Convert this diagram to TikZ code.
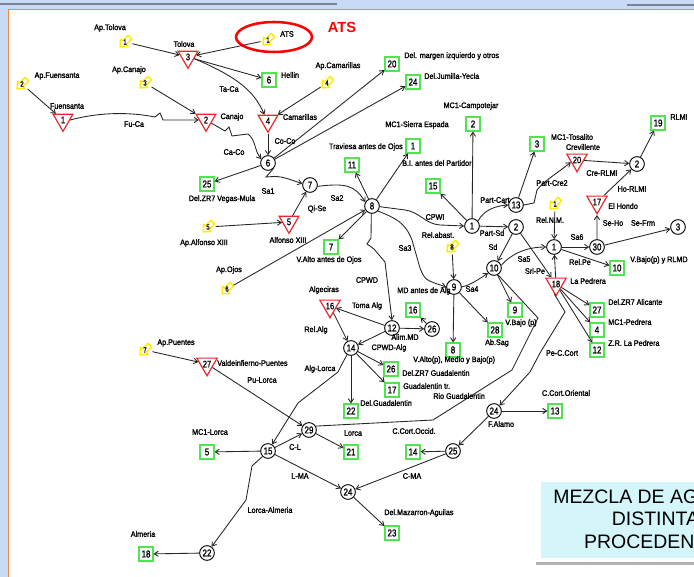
\documentclass[tikz,border=0pt]{standalone}
\usepackage{fontspec}
\setmainfont{Liberation Sans}
\newfontfamily\lblfam[FakeStretch=0.9,FakeBold=1.6]{Liberation Sans}
\newfontfamily\numfam[FakeStretch=0.8,FakeBold=1]{Liberation Sans}
\usetikzlibrary{shapes.geometric,arrows.meta}
\definecolor{sqgreen}{RGB}{80,228,80}
\definecolor{trired}{RGB}{235,40,40}
\definecolor{apyellow}{RGB}{255,236,0}
\definecolor{framebl}{RGB}{200,218,245}
\definecolor{framegr}{RGB}{120,130,150}
\definecolor{frameor}{RGB}{235,140,60}
\definecolor{boxcyan}{RGB}{212,246,250}
\tikzset{
  sq/.style={draw=sqgreen, line width=1.1pt, minimum size=10.3pt, inner sep=0pt, fill=white, font=\numfam\fontsize{7.5}{8}\selectfont},
  circ/.style={circle, draw=black, line width=0.7pt, minimum size=11pt, inner sep=0pt, fill=white, font=\numfam\fontsize{7.5}{8}\selectfont},
  tri/.style={regular polygon, regular polygon sides=3, shape border rotate=180, draw=trired, line width=0.9pt, minimum size=17pt, inner sep=0pt, font=\numfam\fontsize{7}{8}\selectfont},
  apnode/.style={circle, inner sep=0pt, minimum size=11pt, font=\numfam\fontsize{5.5}{6}\selectfont},
  apshape/.style={draw=apyellow, line width=1.1pt, line join=round},
  lbl/.style={inner sep=0pt, font=\lblfam\fontsize{6}{7}\selectfont},
  arr/.style={draw=black!85, line width=0.65pt, -{Straight Barb[length=3pt,width=4pt]}},
  ln/.style={draw=black!85, line width=0.65pt},
}
\newcommand{\apicon}[3]{%
  \draw[apshape, shift={(#2)}, scale=1.15] (5.8,-2.7) -- (0.85,2.26) -- (2.47,3.89) -- (-4.24,4.24) -- (-3.89,-2.47) -- (-2.26,-0.85) -- (2.69,-5.8) -- cycle;
  \node[apnode] (#1) at (#2) {#3};
}
\begin{document}
\begin{tikzpicture}[x=0.75pt,y=-0.75pt]
\useasboundingbox (0,0) rectangle (694,577);
% frame
\fill[white] (0,0) rectangle (694,577);
\fill[framebl] (0,0) rectangle (694,9);
\fill[framebl] (0,0) rectangle (8,577);
\draw[framegr, line width=1.5pt] (0,4) -- (337,4);
\draw[framegr, line width=1.5pt] (627,5) -- (694,5);
\draw[frameor, line width=0.9pt] (8.5,577) -- (8.5,9.5) -- (694,9.5);
% legend box
\fill[boxcyan] (541,482) rectangle (694,558);
\draw[gray!60, line width=2pt] (536,563.5) -- (694,563.5);
\node[align=center, inner sep=0pt, font=\fontsize{14.6}{17}\selectfont] (mezcla) at (662,519) {MEZCLA DE AGUAS DE\\DISTINTAS\\PROCEDENCIAS};
% ATS highlight
\draw[red, line width=1.9pt] (274,37) ellipse [x radius=38, y radius=15];
\node[inner sep=0pt, text=red, font=\bfseries\fontsize{11}{12}\selectfont] (atsbig) at (342,27) {ATS};

% yellow icons
\apicon{iATS}{268,40}{1}
\apicon{iTol}{125,42}{1}
\apicon{iFue}{22,84}{2}
\apicon{iCan}{145,83}{3}
\apicon{iCam}{327,83}{4}
\apicon{iAlf}{208,227}{5}
\apicon{iOjo}{227,289}{6}
\apicon{iPue}{145,350}{7}
\apicon{iRel}{452,247}{8}
\apicon{iRNM}{555,204}{1}

% triangles
\node[tri] (tTol) at (188,57) {3};
\node[tri] (tFue) at (63,120) {1};
\node[tri] (tCan) at (206,120) {2};
\node[tri] (tCam) at (268,121) {4};
\node[tri] (tAlf) at (289,222) {5};
\node[tri] (tAlg) at (330,306) {16};
\node[tri] (tVal) at (207,364) {27};
\node[tri] (tCre) at (577,160) {20};
\node[tri] (tHon) at (597,202) {17};
\node[tri] (tPed) at (556,284) {18};

% squares
\node[sq] (s6) at (269,80) {6};
\node[sq] (s20) at (392,64) {20};
\node[sq] (s24) at (413,82) {24};
\node[sq] (s2) at (473,124) {2};
\node[sq] (s1) at (413,146) {1};
\node[sq] (s11) at (352,165) {11};
\node[sq] (s15) at (433,186) {15};
\node[sq] (s3) at (537,144) {3};
\node[sq] (s19) at (658,123) {19};
\node[sq] (s25) at (207,184) {25};
\node[sq] (s7) at (331,247) {7};
\node[sq] (s16) at (413,310) {16};
\node[sq] (s9) at (515,310) {9};
\node[sq] (s28) at (495,330) {28};
\node[sq] (s8) at (453,350) {8};
\node[sq] (s26) at (391,369) {26};
\node[sq] (s17) at (392,390) {17};
\node[sq] (s22) at (351,411) {22};
\node[sq] (s21) at (351,452) {21};
\node[sq] (s14) at (413,452) {14};
\node[sq] (s23) at (392,533) {23};
\node[sq] (s13) at (555,411) {13};
\node[sq] (s5) at (207,452) {5};
\node[sq] (s18) at (146,554) {18};
\node[sq] (s10) at (617,268) {10};
\node[sq] (s27) at (597,310) {27};
\node[sq] (s4) at (597,330) {4};
\node[sq] (s12) at (597,350) {12};

% circles
\node[circ] (c6) at (268,163) {6};
\node[circ] (c7) at (310,185) {7};
\node[circ] (c8) at (372,206) {8};
\node[circ] (c1a) at (472,226) {1};
\node[circ] (c13) at (516,205) {13};
\node[circ] (c2a) at (516,227) {2};
\node[circ] (c10) at (494,268) {10};
\node[circ] (c9) at (454,287) {9};
\node[circ] (c1b) at (554,247) {1};
\node[circ] (c30) at (597,247) {30};
\node[circ] (c3) at (678,227) {3};
\node[circ] (c2b) at (637,164) {2};
\node[circ] (c12) at (392,328) {12};
\node[circ] (c26) at (432,329) {26};
\node[circ] (c14) at (351,348) {14};
\node[circ] (c29) at (309,430) {29};
\node[circ] (c15) at (268,451) {15};
\node[circ] (c24a) at (348,492) {24};
\node[circ] (c24b) at (494,411) {24};
\node[circ] (c25) at (453,451) {25};
\node[circ] (c22) at (207,553) {22};

% connectors
\draw[arr] (iTol) -- (tTol);
\draw[arr] (iATS) -- (tTol);
\draw[arr] (tTol) -- (s6);
\draw[arr] (tTol.-15) .. controls (235,76) and (254,90) .. (tCam.120);
\draw[arr] (iFue) -- (tFue);
\draw[arr] (tFue.east) .. controls (100,112) and (130,112) .. (155,117) -- (160,113) -- (163,120) -- (tCan.west);
\draw[arr] (iCan) -- (tCan);
\draw[arr] (tCan.-30) -- (225,131) -- (229,127) -- (232,136) -- (248,134) .. controls (256,140) and (254,150) .. (c6.150);
\draw[arr] (tCam) -- (c6);
\draw[arr] (iCam) -- (tCam);
\draw[arr] (c6) -- (s20);
\draw[arr] (c6) -- (s24);
\draw[arr] (c6) -- (s25);
\draw[arr] (c6.-45) -- (266,177) .. controls (280,176) .. (c7.170);
\draw[arr] (tAlf) -- (c7);
\draw[arr] (iAlf) -- (tAlf);
\draw[arr] (c7.-10) .. controls (345,183) and (355,185) .. (c8.150);
\draw[arr] (c8) -- (s11);
\draw[arr] (c8) -- (s1);
\draw[arr] (c8) -- (s7);
\draw[arr] (iOjo) -- (c8);
\draw[arr] (c8.-5) -- (405,210) .. controls (420,212) and (425,224) .. (440,225) -- (c1a.west);
\draw[arr] (c8.-40) .. controls (395,218) and (405,222) .. (412,240) -- (420,268) .. controls (425,280) .. (c9.west);
\draw[arr] (c8.-95) -- (371,238) -- (367,244) -- (374,249) -- (385,262) -- (c12.north);
\draw[arr] (c1a) -- (s2);
\draw[arr] (c1a) -- (s15);
\draw[arr] (c1a.40) .. controls (484,210) and (495,206) .. (c13.west);
\draw[arr] (c1a) -- (c2a);
\draw[arr] (c13) -- (s3);
\draw[arr] (c13.east) -- (534,203) -- (537,190) .. controls (545,180) and (555,175) .. (tCre.200);
\draw[arr] (tCre) -- (c2b);
\draw[arr] (tHon) -- (c2b);
\draw[arr] (c2b) -- (s19);
\draw[arr] (c2a) -- (c10);
\draw[arr] (c2a) -- (tPed);
\draw[arr] (c10.20) .. controls (510,255) and (525,247) .. (c1b.west);
\draw[arr] (c9.east) .. controls (470,285) and (478,280) .. (c10.220);
\draw[arr] (iRel) -- (c9);
\draw[arr] (c9) -- (s8);
\draw[arr] (c9) -- (s28);
\draw[arr] (c10) -- (s9);
\draw[arr] (iRNM) -- (c1b);
\draw[arr] (tPed) -- (c1b);
\draw[arr] (c1b) -- (c30);
\draw[arr] (c1b) -- (s10);
\draw[arr] (c30) -- (tHon);
\draw[arr] (c30) -- (c3);
\draw[arr] (tPed) -- (s27);
\draw[arr] (tPed) -- (s4);
\draw[arr] (tPed) -- (s12);
\draw[arr] (tPed.-100) -- (565,312) -- (540,353) -- (530,372) -- (c24b.45);
\draw[ln] (c29.30) -- (433,420) -- (512,370) -- (538,318) -- (c10.-60);
\draw[arr] (c12) -- (tAlg);
\draw[arr] (tAlg) -- (c14);
\draw[arr] (c12) -- (c14);
\draw[arr] (c12) -- (c26);
\draw[arr] (c26) -- (s16);
\draw[arr] (c14) -- (s26);
\draw[arr] (c14) -- (s17);
\draw[arr] (c14) -- (s22);
\draw[arr] (c14.-120) .. controls (343,362) .. (338,372) -- (298,403) -- (c15);
\draw[arr] (tVal) -- (c29);
\draw[arr] (iPue) -- (tVal);
\draw[arr] (c15) -- (c29);
\draw[arr] (c29) -- (s21);
\draw[arr] (c15) -- (s5);
\draw[arr] (c15) -- (c24a);
\draw[arr] (c25) -- (s14);
\draw[arr] (c25) -- (c24a);
\draw[arr] (c24a) -- (s23);
\draw[arr] (c24b) -- (s13);
\draw[arr] (c24b) -- (c25);
\draw[arr] (c15.-135) -- (252,466) -- (246,500) -- (c22);
\draw[arr] (c22) -- (s18);

% labels
\node[lbl] (lApTol) at (110,28) {Ap.Tolova};
\node[lbl] (lTol) at (184,44) {Tolova};
\node[lbl] (lATSs) at (287,34) {ATS};
\node[lbl] (lApFue) at (57,76) {Ap.Fuensanta};
\node[lbl] (lApCan) at (129,70) {Ap.Canajo};
\node[lbl] (lFue) at (67,106) {Fuensanta};
\node[lbl] (lFuCa) at (134,124) {Fu-Ca};
\node[lbl] (lCan) at (232,117) {Canajo};
\node[lbl] (lTaCa) at (229,89) {Ta-Ca};
\node[lbl] (lHel) at (290,75) {Hellin};
\node[lbl] (lApCam) at (338,66) {Ap.Camarillas};
\node[lbl] (lCam) at (300,117) {Camarillas};
\node[lbl] (lCoCo) at (285,141) {Co-Co};
\node[lbl] (lCaCo) at (234,152) {Ca-Co};
\node[lbl] (lVeg) at (222,199) {Del.ZR7 Vegas-Mula};
\node[lbl] (lSa1) at (268,191) {Sa1};
\node[lbl] (lQiSe) at (317,209) {Qi-Se};
\node[lbl] (lSa2) at (337,198) {Sa2};
\node[lbl, anchor=west] (lMarg) at (404,56) {Del. margen izquierdo y otros};
\node[lbl, anchor=west] (lJum) at (424,76) {Del.Jumilla-Yecla};
\node[lbl] (lCampo) at (471,106) {MC1-Campotejar};
\node[lbl] (lSierra) at (417,125) {MC1-Sierra Espada};
\node[lbl, anchor=east] (lTrav) at (403,147) {Traviesa antes de Ojos};
\node[lbl, anchor=west] (lBI) at (402,163) {B.I. antes del Partidor};
\node[lbl] (lCPWI) at (435,217) {CPWI};
\node[lbl] (lRelab) at (438,235) {Rel.abast.};
\node[lbl] (lPartCart) at (495,200) {Part-Cart};
\node[lbl] (lPartSd) at (492,233) {Part-Sd};
\node[lbl] (lSd) at (493,247) {Sd};
\node[lbl] (lSa5) at (524,259) {Sa5};
\node[lbl] (lSrlPe) at (535,271) {Srl-Pe};
\node[lbl] (lSa4) at (472,289) {Sa4};
\node[lbl] (lRNM) at (550,220) {Rel.N.M.};
\node[lbl] (lSa6) at (577,237) {Sa6};
\node[lbl] (lRelPe) at (580,262) {Rel.Pe};
\node[lbl] (lSeHo) at (613,223) {Se-Ho};
\node[lbl] (lSeFm) at (643,223) {Se-Frm};
\node[lbl, anchor=west] (lHon) at (608,206) {El Hondo};
\node[lbl, anchor=west] (lVBR) at (630,260) {V.Bajo(p) y RLMD};
\node[lbl, anchor=west] (lPed) at (570,281) {La Pedrera};
\node[lbl, anchor=west] (lZRA) at (608,302) {Del.ZR7 Alicante};
\node[lbl, anchor=west] (lMCP) at (608,322) {MC1-Pedrera};
\node[lbl, anchor=west] (lZRP) at (608,343) {Z.R. La Pedrera};
\node[lbl] (lPeC) at (562,353) {Pe-C.Cort};
\node[lbl] (lVBp) at (521,323) {V.Bajo (p)};
\node[lbl] (lAbS) at (497,343) {Ab.Sag};
\node[lbl] (lTos) at (572,137) {MC1-Tosalito};
\node[lbl] (lCrev) at (583,147) {Crevillente};
\node[lbl] (lPC2) at (552,183) {Part-Cre2};
\node[lbl] (lCreR) at (602,173) {Cre-RLMI};
\node[lbl] (lHoR) at (632,189) {Ho-RLMI};
\node[lbl] (lRLMI) at (679,117) {RLMI};
\node[lbl] (lVAO) at (329,260) {V.Alto antes de Ojos};
\node[lbl] (lApAlf) at (204,243) {Ap.Alfonso XIII};
\node[lbl] (lAlf) at (288,240) {Alfonso XIII};
\node[lbl] (lApOjo) at (229,270) {Ap.Ojos};
\node[lbl] (lSa3) at (405,248) {Sa3};
\node[lbl] (lCPWD) at (367,280) {CPWD};
\node[lbl, anchor=west] (lMDA) at (397,291) {MD antes de Alg};
\node[lbl] (lAlg) at (324,290) {Algeciras};
\node[lbl] (lToma) at (367,306) {Toma Alg};
\node[lbl] (lRelAlg) at (316,330) {Rel.Alg};
\node[lbl] (lAlim) at (405,337) {Alim.MD};
\node[lbl] (lCPWDA) at (389,348) {CPWD-Alg};
\node[lbl] (lAlgLor) at (320,369) {Alg-Lorca};
\node[lbl, anchor=west] (lVal) at (217,363) {Valdeinfierno-Puentes};
\node[lbl] (lApPue) at (176,343) {Ap.Puentes};
\node[lbl] (lPuLor) at (262,380) {Pu-Lorca};
\node[lbl, anchor=west] (lVAMB) at (413,360) {V.Alto(p), Medio y Bajo(p)};
\node[lbl, anchor=west] (lZRG) at (402,373) {Del.ZR7 Guadalentin};
\node[lbl, anchor=west] (lGtr) at (403,386) {Guadalentin tr.};
\node[lbl, anchor=west] (lRio) at (433,396) {Rio Guadalentin};
\node[lbl, anchor=west] (lDelG) at (360,403) {Del.Guadalentin};
\node[lbl] (lLorca) at (353,433) {Lorca};
\node[lbl] (lCCO) at (414,431) {C.Cort.Occid.};
\node[lbl] (lCL) at (295,447) {C-L};
\node[lbl] (lLMA) at (300,476) {L-MA};
\node[lbl] (lCMA) at (412,476) {C-MA};
\node[lbl] (lLA) at (270,510) {Lorca-Almeria};
\node[lbl, anchor=west] (lMaz) at (384,513) {Del.Mazarron-Aguilas};
\node[lbl] (lCCOr) at (566,393) {C.Cort.Oriental};
\node[lbl] (lFAl) at (501,424) {F.Alamo};
\node[lbl] (lMCL) at (210,432) {MC1-Lorca};
\node[lbl] (lAlm) at (143,534) {Almeria};
\end{tikzpicture}
\end{document}
